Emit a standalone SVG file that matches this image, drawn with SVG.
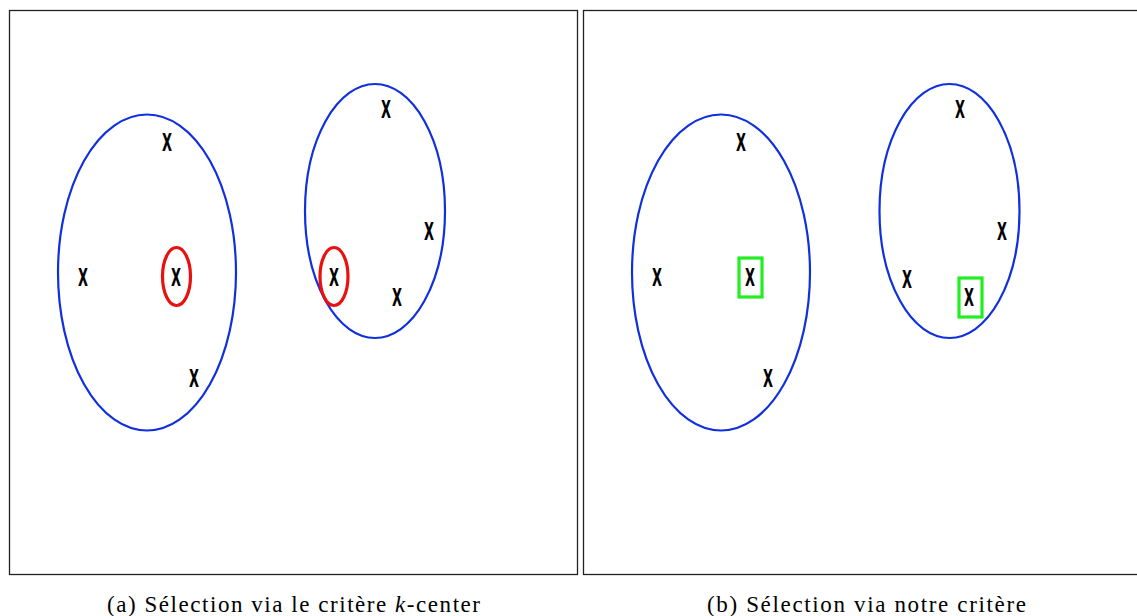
<svg xmlns="http://www.w3.org/2000/svg" width="1137" height="616" viewBox="0 0 1137 616">
<style>
.panel{fill:#fff;stroke:#222;stroke-width:1.3}
.cl{fill:none;stroke:#1030e0;stroke-width:2.2}
.red{fill:none;stroke:#e81010;stroke-width:3.2}
.grn{fill:none;stroke:#22ee22;stroke-width:3.2}
.x{font-family:"DejaVu Sans Condensed","DejaVu Sans",sans-serif;font-size:24px;font-weight:bold;fill:#000;text-anchor:middle}
.cap{font-family:"Liberation Serif",serif;font-size:23px;fill:#000;text-anchor:middle}
</style>
<rect width="1137" height="616" fill="#fff"/>
<g id="panel-a">
<rect class="panel" x="9.5" y="10.5" width="568" height="564"/>
<ellipse class="cl" cx="147" cy="272.5" rx="89" ry="158"/>
<ellipse class="cl" cx="375" cy="211" rx="70" ry="127"/>
<ellipse class="red" cx="176.5" cy="276.5" rx="14" ry="29"/>
<ellipse class="red" cx="334" cy="276.5" rx="14" ry="29"/>
<g transform="scale(0.6,1)">
<text class="x" x="278.3" y="151">X</text>
<text class="x" x="138.3" y="286">X</text>
<text class="x" x="293.3" y="286">X</text>
<text class="x" x="323.3" y="387">X</text>
<text class="x" x="643.3" y="118">X</text>
<text class="x" x="715" y="240">X</text>
<text class="x" x="556.7" y="286">X</text>
<text class="x" x="661.7" y="306">X</text>
</g>
</g>
<g id="panel-b">
<rect class="panel" x="583.5" y="10.5" width="600" height="564"/>
<ellipse class="cl" cx="721" cy="272.5" rx="89" ry="158"/>
<ellipse class="cl" cx="949.5" cy="211" rx="70" ry="127"/>
<rect class="grn" x="739" y="258" width="23" height="39"/>
<rect class="grn" x="959" y="278" width="23" height="39"/>
<g transform="scale(0.6,1)">
<text class="x" x="1235" y="151">X</text>
<text class="x" x="1095" y="286">X</text>
<text class="x" x="1250" y="286">X</text>
<text class="x" x="1280" y="387">X</text>
<text class="x" x="1600" y="118">X</text>
<text class="x" x="1670" y="240">X</text>
<text class="x" x="1511.7" y="288">X</text>
<text class="x" x="1615" y="306">X</text>
</g>
</g>
<text class="cap" x="293.5" y="612" textLength="373" lengthAdjust="spacing">(a) Sélection via le critère <tspan font-style="italic">k</tspan>-center</text>
<text class="cap" x="866.5" y="612" textLength="319" lengthAdjust="spacing">(b) Sélection via notre critère</text>
</svg>
